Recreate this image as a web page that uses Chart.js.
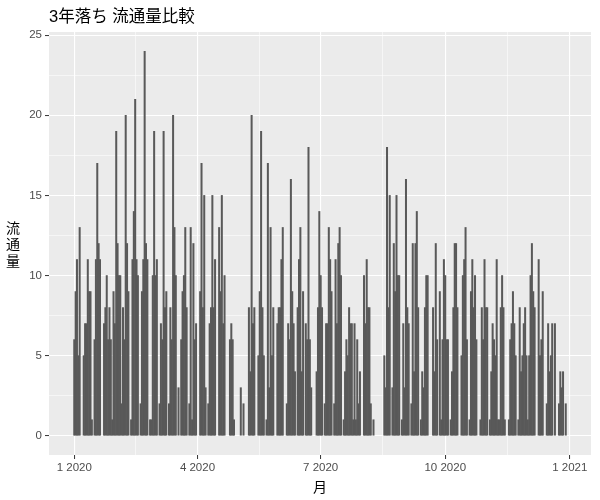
<!DOCTYPE html>
<html>
<head>
<meta charset="utf-8">
<script src="https://cdn.jsdelivr.net/npm/chart.js@4"></script>
<style>
  html, body { margin: 0; padding: 0; background: #fff; }
</style>
</head>
<body>
<canvas id="volumeChart" width="600" height="500"></canvas>
<script>
const chartTitle = '3年落ち 流通量比較';
const xAxisTitle = '月';
const yAxisTitle = ['流', '通', '量'];

// x is the day offset from 2020-01-01
const majorTickDays = [0, 91, 182, 274, 366];
const majorTickLabels = ['1 2020', '4 2020', '7 2020', '10 2020', '1 2021'];
const minorTickDays = [45.5, 136.5, 228, 320];
const yMajorTicks = [0, 5, 10, 15, 20, 25];
const yMinorTicks = [2.5, 7.5, 12.5, 17.5, 22.5];

// daily volume, index 0 = 2020-01-01 (0 = no listing that day)
const dailyVolume = [
    6, 9, 11, 5, 13, 0, 0, 5, 7, 7,
    11, 9, 9, 1, 0, 6, 11, 17, 12, 11,
    0, 0, 7, 8, 10, 6, 8, 6, 1, 9,
    7, 19, 12, 10, 10, 2, 8, 6, 20, 12,
    9, 0, 1, 11, 14, 21, 11, 10, 0, 2,
    9, 11, 24, 12, 11, 0, 1, 1, 10, 19,
    10, 11, 0, 2, 7, 6, 19, 8, 9, 0,
    2, 8, 6, 20, 13, 10, 0, 3, 0, 6,
    9, 10, 13, 8, 0, 2, 13, 1, 12, 6,
    7, 0, 0, 9, 17, 8, 15, 3, 0, 2,
    7, 8, 15, 8, 11, 0, 0, 13, 9, 15,
    7, 10, 0, 0, 0, 6, 7, 6, 1, 0,
    0, 0, 0, 3, 0, 2, 0, 0, 0, 8,
    4, 20, 7, 8, 0, 0, 5, 9, 19, 8,
    5, 0, 1, 17, 3, 13, 5, 8, 0, 0,
    7, 8, 8, 11, 13, 0, 0, 2, 7, 6,
    16, 9, 7, 4, 0, 8, 11, 13, 4, 9,
    0, 7, 6, 18, 6, 3, 0, 0, 0, 4,
    8, 14, 10, 8, 0, 2, 7, 7, 13, 11,
    9, 0, 2, 11, 7, 12, 13, 10, 0, 1,
    4, 6, 5, 8, 7, 7, 1, 7, 1, 6,
    2, 4, 0, 0, 10, 7, 11, 8, 8, 2,
    0, 1, 0, 0, 0, 0, 0, 0, 0, 5,
    3, 18, 8, 15, 0, 3, 12, 9, 15, 10,
    10, 0, 1, 7, 3, 16, 8, 7, 0, 2,
    12, 4, 12, 14, 8, 0, 1, 4, 3, 8,
    10, 10, 0, 0, 0, 8, 4, 12, 6, 0,
    9, 1, 6, 11, 10, 6, 6, 0, 1, 4,
    8, 12, 12, 8, 0, 0, 5, 10, 11, 13,
    6, 0, 1, 9, 11, 8, 10, 6, 0, 0,
    1, 8, 6, 11, 8, 8, 0, 1, 4, 7,
    6, 5, 11, 1, 1, 8, 10, 8, 1, 0,
    0, 1, 6, 7, 9, 7, 5, 0, 1, 8,
    4, 5, 7, 8, 5, 1, 5, 10, 12, 9,
    8, 0, 0, 11, 5, 6, 9, 0, 0, 2,
    7, 4, 5, 7, 0, 7, 0, 0, 2, 4,
    3, 4, 0, 2
];

const fontFamily = '"Liberation Sans", Arial, "Noto Sans CJK JP", sans-serif';

// gray panel behind the grid + titles drawn like ggplot
const ggLayout = {
    id: 'ggLayout',
    beforeDraw(chart) {
        const { ctx, chartArea: a } = chart;
        ctx.save();
        ctx.fillStyle = '#EBEBEB';
        ctx.fillRect(a.left, a.top, a.right - a.left, a.bottom - a.top);
        ctx.restore();
    },
    afterDraw(chart) {
        const { ctx, chartArea: a } = chart;
        ctx.save();
        ctx.fillStyle = '#000000';
        ctx.font = '16.5px ' + fontFamily;
        ctx.textAlign = 'left';
        ctx.textBaseline = 'alphabetic';
        ctx.fillText(chartTitle, a.left, 22);

        ctx.font = '14px ' + fontFamily;
        ctx.textAlign = 'center';
        ctx.textBaseline = 'middle';
        ctx.fillText(xAxisTitle, (a.left + a.right) / 2, 488);
        yAxisTitle.forEach((ch, i) => {
            ctx.fillText(ch, 13, 229 + i * 16.5);
        });
        ctx.restore();
    }
};

function isMajor(list, value) {
    return list.indexOf(value) >= 0;
}

// days without listings get no bar at all
const barPoints = dailyVolume
    .map((v, i) => ({ x: i, y: v }))
    .filter(p => p.y > 0);

const ctx = document.getElementById('volumeChart').getContext('2d');
new Chart(ctx, {
    type: 'bar',
    data: {
        datasets: [{
            label: '流通量',
            data: barPoints,
            backgroundColor: '#595959',
            borderWidth: 0,
            barPercentage: 1.0,
            categoryPercentage: 1.0
        }]
    },
    options: {
        responsive: false,
        animation: false,
        layout: {
            padding: { top: 32, right: 9, left: 0, bottom: 0 }
        },
        plugins: {
            legend: { display: false },
            tooltip: { enabled: false },
            title: { display: false }
        },
        scales: {
            x: {
                type: 'linear',
                min: -18.65,
                max: 381.65,
                offset: false,
                afterFit: scale => { scale.height = 45; },
                afterBuildTicks: scale => {
                    scale.ticks = majorTickDays.concat(minorTickDays)
                        .sort((a, b) => a - b)
                        .map(v => ({ value: v }));
                },
                ticks: {
                    autoSkip: false,
                    maxRotation: 0,
                    padding: 2,
                    color: '#4D4D4D',
                    font: { family: fontFamily, size: 11.5 },
                    callback: value => {
                        const i = majorTickDays.indexOf(value);
                        return i >= 0 ? majorTickLabels[i] : '';
                    }
                },
                grid: {
                    offset: false,
                    color: '#FFFFFF',
                    lineWidth: c => isMajor(majorTickDays, c.tick.value) ? 1.1 : 0.55,
                    tickColor: c => isMajor(majorTickDays, c.tick.value) ? '#333333' : 'rgba(0,0,0,0)',
                    tickLength: 4,
                    tickWidth: 1
                },
                border: { display: false }
            },
            y: {
                min: -1.2,
                max: 25.2,
                afterFit: scale => { scale.width = 49; },
                afterBuildTicks: scale => {
                    scale.ticks = yMajorTicks.concat(yMinorTicks)
                        .sort((a, b) => a - b)
                        .map(v => ({ value: v }));
                },
                ticks: {
                    autoSkip: false,
                    padding: 3,
                    color: '#4D4D4D',
                    font: { family: fontFamily, size: 11.5 },
                    callback: value => isMajor(yMajorTicks, value) ? String(value) : ''
                },
                grid: {
                    color: '#FFFFFF',
                    lineWidth: c => isMajor(yMajorTicks, c.tick.value) ? 1.1 : 0.55,
                    tickColor: c => isMajor(yMajorTicks, c.tick.value) ? '#333333' : 'rgba(0,0,0,0)',
                    tickLength: 4,
                    tickWidth: 1
                },
                border: { display: false }
            }
        }
    },
    plugins: [ggLayout]
});
</script>
</body>
</html>
